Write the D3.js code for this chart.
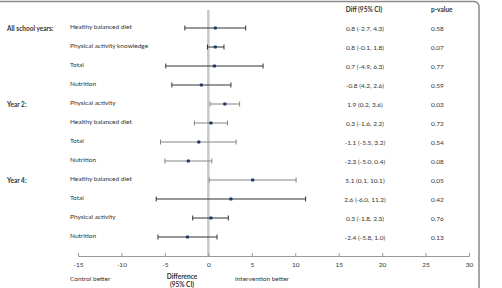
<!DOCTYPE html>
<html>
<head>
<meta charset="utf-8">
<script src="https://cdn.jsdelivr.net/npm/d3@7"></script>
<style>
  body { margin: 0; background: #fff; }
  svg text { font-family: Lato, "Liberation Sans", sans-serif; fill: #333; }
</style>
</head>
<body>
<svg id="chart"></svg>
<script>
// group label shown on the first row of each group
let groups = ["All school years:", "", "", "", "Year 2:", "", "", "", "Year 4:", "", "", ""];
let outcomes = ["Healthy balanced diet", "Physical activity knowledge", "Total", "Nutrition",
  "Physical activity", "Healthy balanced diet", "Total", "Nutrition",
  "Healthy balanced diet", "Total", "Physical activity", "Nutrition"];
let diffs = [0.8, 0.8, 0.7, -0.8, 1.9, 0.3, -1.1, -2.3, 5.1, 2.6, 0.3, -2.4];
let lower = [-2.7, -0.1, -4.9, -4.2, 0.2, -1.6, -5.5, -5.0, 0.1, -6.0, -1.8, -5.8];
let upper = [4.3, 1.8, 6.3, 2.6, 3.6, 2.2, 3.2, 0.4, 10.1, 11.2, 2.3, 1.0];
let ciText = ["0.8 (-2.7, 4.3)", "0.8 (-0.1, 1.8)", "0.7 (-4.9, 6.3)", "-0.8 (4.2, 2.6)",
  "1.9 (0.2, 3.6)", "0.3 (-1.6, 2.2)", "-1.1 (-5.5, 3.2)", "-2.3 (-5.0, 0.4)",
  "5.1 (0.1, 10.1)", "2.6 (-6.0, 11.2)", "0.3 (-1.8, 2.3)", "-2.4 (-5.8, 1.0)"];
let pValues = ["0.58", "0.07", "0.77", "0.59", "0.03", "0.72", "0.54", "0.08", "0.05", "0.42", "0.76", "0.13"];
let xTicks = [-15, -10, -5, 0, 5, 10, 15, 20, 25, 30];

let W = 502, H = 288;
let svg = d3.select("#chart").attr("width", W).attr("height", H);

let data = outcomes.map((o, i) => ({
  i, group: groups[i], outcome: o, diff: diffs[i], lo: lower[i], hi: upper[i],
  ci: ciText[i], p: pValues[i]
}));

let x = d3.scaleLinear().domain([-15, 30]).range([78, 469]);
let y = d3.scaleLinear().domain([0, 11]).range([28, 237]);

// outer frame
svg.append("rect")
  .attr("x", -10).attr("y", 1.5)
  .attr("width", 489).attr("height", 300)
  .attr("rx", 5)
  .attr("fill", "none")
  .attr("stroke", "#8a8a8a")
  .attr("stroke-width", 1.5);

// zero line
svg.append("line")
  .attr("x1", x(0)).attr("x2", x(0))
  .attr("y1", 10).attr("y2", 256)
  .attr("stroke", "#c8c8c8")
  .attr("stroke-width", 2.5);

// x axis
let axis = svg.append("g")
  .attr("transform", "translate(0,256)")
  .call(d3.axisTop(x).tickValues(xTicks).tickSize(3).tickFormat(d => String(d)));
axis.select(".domain").attr("stroke", "#999");
axis.selectAll(".tick line").attr("stroke", "#999");
axis.selectAll(".tick text")
  .attr("y", 11)
  .attr("font-size", 6.5)
  .attr("fill", "#444")
  .attr("dy", "0");

// bar colours: lighter grey for some rows as in the source
const barColor = (d) => (d.i >= 4 && d.i <= 8) ? "#858585" : "#333";

let rows = svg.append("g").selectAll("g").data(data).join("g")
  .attr("transform", d => `translate(0,${y(d.i)})`);

rows.append("line")
  .attr("x1", d => x(d.lo)).attr("x2", d => x(d.hi))
  .attr("stroke", barColor).attr("stroke-width", 1);
rows.append("line")
  .attr("x1", d => x(d.lo)).attr("x2", d => x(d.lo))
  .attr("y1", -2.5).attr("y2", 2.5)
  .attr("stroke", barColor).attr("stroke-width", 1);
rows.append("line")
  .attr("x1", d => x(d.hi)).attr("x2", d => x(d.hi))
  .attr("y1", -2.5).attr("y2", 2.5)
  .attr("stroke", barColor).attr("stroke-width", 1);
rows.append("rect")
  .attr("x", d => x(d.diff) - 1.6).attr("y", -1.6)
  .attr("width", 3.2).attr("height", 3.2)
  .attr("rx", 0.8)
  .attr("fill", "#1f3a60");

rows.append("text")
  .attr("x", 7).attr("y", 2.5)
  .attr("font-size", 6.5).attr("font-weight", "bold")
  .text(d => d.group);
rows.append("text")
  .attr("x", 70).attr("y", 1)
  .attr("font-size", 6.5)
  .text(d => d.outcome);
rows.append("text")
  .attr("x", 365).attr("y", 2.5)
  .attr("text-anchor", "middle")
  .attr("font-size", 6.5)
  .text(d => d.ci);
rows.append("text")
  .attr("x", 431).attr("y", 2.5)
  .attr("font-size", 6.5)
  .text(d => d.p);

// headers
svg.append("text").attr("x", 364).attr("y", 12)
  .attr("text-anchor", "middle").attr("font-size", 6.5).attr("font-weight", "bold")
  .text("Diff (95% CI)");
svg.append("text").attr("x", 431).attr("y", 12)
  .attr("font-size", 6.5).attr("font-weight", "bold")
  .text("p-value");

// bottom captions
svg.append("text").attr("x", 70).attr("y", 281)
  .attr("font-size", 6.5).text("Control better");
svg.append("text").attr("x", 182).attr("y", 279)
  .attr("text-anchor", "middle").attr("font-size", 6.5).attr("font-weight", "bold")
  .text("Difference");
svg.append("text").attr("x", 182).attr("y", 287)
  .attr("text-anchor", "middle").attr("font-size", 6.5).attr("font-weight", "bold")
  .text("(95% CI)");
svg.append("text").attr("x", 235).attr("y", 281)
  .attr("font-size", 6.5).text("Intervention better");
</script>
</body>
</html>
